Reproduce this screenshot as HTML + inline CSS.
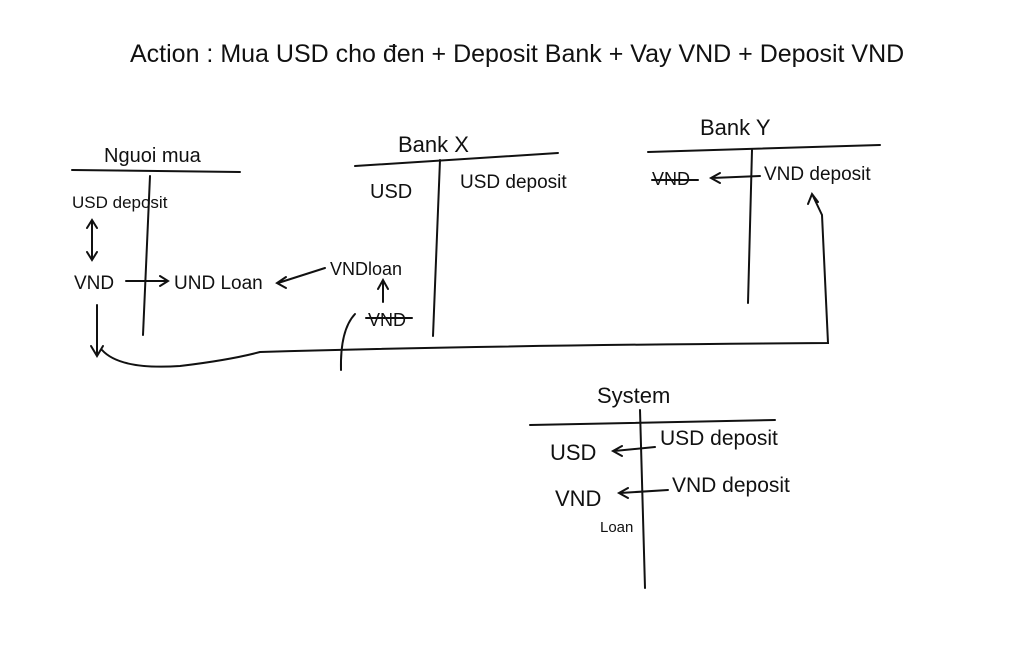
<!DOCTYPE html>
<html><head><meta charset="utf-8"><style>
html,body{margin:0;padding:0;background:#fff;}
svg{display:block}
text{font-family:"Liberation Sans",sans-serif;fill:#111;}
</style></head><body>
<svg width="1024" height="657" viewBox="0 0 1024 657" xmlns="http://www.w3.org/2000/svg">
<g stroke="#111" stroke-width="2" fill="none" stroke-linecap="round">
<path d="M72 170 L240 172"/>
<path d="M150 176 L143 335"/>
<path d="M92 222 L92 258 M87 228 L92 220 L97 228 M87 252 L92 260 L97 252"/>
<path d="M126 281 L168 281 M160 276 L168 281 L160 286"/>
<path d="M325 268 L278 283 M286 277 L277 283 L286 288"/>
<path d="M383 302 L383 282 M378 289 L383 280 L388 289"/>
<path d="M366 318 L412 318"/>
<path d="M355 314 Q340 330 341 370"/>
<path d="M355 166 L558 153"/>
<path d="M440 160 L433 336"/>
<path d="M648 152 L880 145"/>
<path d="M752 150 L748 303"/>
<path d="M652 180 L698 180"/>
<path d="M760 176 L712 178 M720 173 L711 178 L720 183"/>
<path d="M97 305 L97 355 M91 346 L97 356 L103 346"/>
<path d="M102 350 Q120 370 180 366 Q230 360 260 352 Q500 345 828 343 L822 215 L813 196 M808 204 L812 194 L818 202"/>
<path d="M530 425 L775 420"/>
<path d="M640 410 L645 588"/>
<path d="M655 447 L614 451 M622 446 L613 451 L622 456"/>
<path d="M668 490 L620 493 M628 488 L619 493 L628 498"/>
</g>
<g font-size="22">
<text x="130" y="62" font-size="25">Action :  Mua USD cho đen + Deposit Bank + Vay VND + Deposit VND</text>
<text x="104" y="162" font-size="20">Nguoi mua</text>
<text x="72" y="208" font-size="17">USD deposit</text>
<text x="74" y="289" font-size="19">VND</text>
<text x="174" y="289" font-size="19">UND Loan</text>
<text x="330" y="275" font-size="18">VNDloan</text>
<text x="368" y="326" font-size="18">VND</text>
<text x="398" y="152">Bank X</text>
<text x="370" y="198" font-size="20">USD</text>
<text x="460" y="188" font-size="19">USD deposit</text>
<text x="700" y="135">Bank Y</text>
<text x="652" y="185" font-size="18">VND</text>
<text x="764" y="180" font-size="19">VND deposit</text>
<text x="597" y="403">System</text>
<text x="550" y="460">USD</text>
<text x="660" y="445" font-size="21">USD deposit</text>
<text x="555" y="506">VND</text>
<text x="672" y="492" font-size="21">VND deposit</text>
<text x="600" y="532" font-size="15">Loan</text>
</g>
</svg>
</body></html>
